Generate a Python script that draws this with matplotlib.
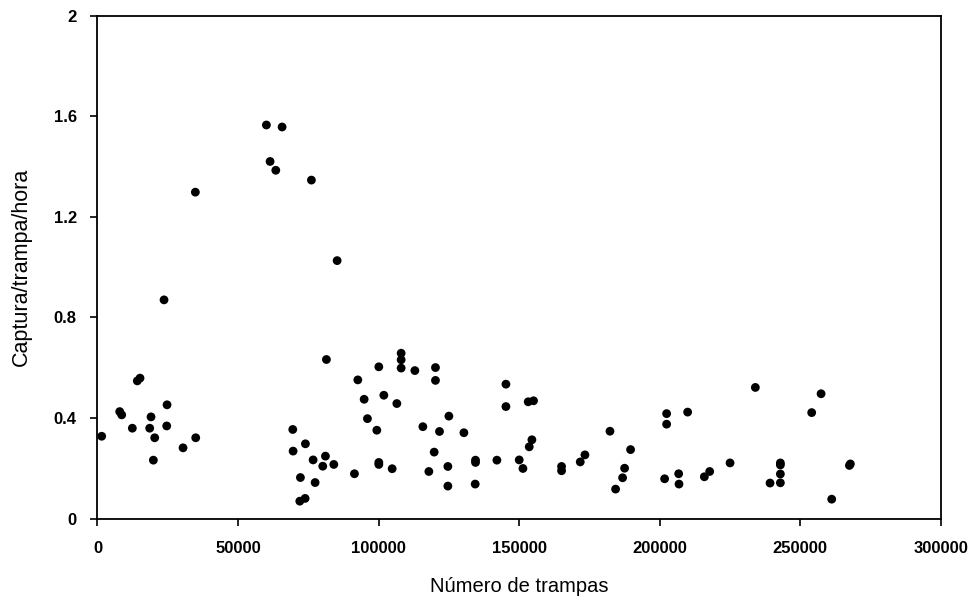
import matplotlib
matplotlib.use("Agg")
import matplotlib.pyplot as plt
from matplotlib.ticker import FuncFormatter

trampas = [
    60080, 65660, 61390, 63420, 76090, 34810, 85240, 23670,
    81430, 14160, 15130, 7900, 8610, 24740, 19040, 12390, 18570, 24620,
    1490, 20350, 34940, 30430, 19870,
    69460, 73960, 69580, 81080, 76700, 80130, 84060, 72180, 77410, 71960, 73850,
    91400, 92600, 94850, 101860, 96020, 99360, 100070, 100070, 100070, 104810,
    106480, 108010, 108010, 108010, 112890, 120220, 120220, 115740, 121650,
    124990, 119760, 117870, 124630, 124630, 130330, 134460, 134460, 134350,
    142070, 145280, 145280, 150010, 151330,
    153210, 155100, 154520, 153570, 165070, 165070, 171720, 173380, 182290,
    189620, 187490, 186780, 184290, 202440, 202440, 201730, 209920, 206720,
    206840, 215860, 217760, 225000, 234000,
    239230, 242900, 242900, 242900, 242900, 254040, 257380, 261160, 267460, 267800,
]
captura = [
    1.565, 1.557, 1.420, 1.385, 1.346, 1.298, 1.026, 0.870,
    0.633, 0.548, 0.559, 0.426, 0.413, 0.453, 0.405, 0.360, 0.360, 0.369,
    0.328, 0.322, 0.322, 0.282, 0.233,
    0.355, 0.298, 0.269, 0.249, 0.234, 0.209, 0.216, 0.164, 0.144, 0.070, 0.081,
    0.179, 0.552, 0.475, 0.491, 0.398, 0.352, 0.604, 0.224, 0.216, 0.199,
    0.458, 0.658, 0.632, 0.599, 0.589, 0.601, 0.550, 0.366, 0.347,
    0.408, 0.265, 0.188, 0.208, 0.130, 0.342, 0.233, 0.224, 0.138,
    0.233, 0.535, 0.446, 0.234, 0.200,
    0.465, 0.469, 0.314, 0.286, 0.208, 0.191, 0.226, 0.254, 0.348,
    0.275, 0.201, 0.163, 0.118, 0.418, 0.376, 0.159, 0.424, 0.179,
    0.138, 0.167, 0.188, 0.222, 0.522,
    0.142, 0.222, 0.214, 0.178, 0.143, 0.422, 0.497, 0.078, 0.212, 0.218,
]

x_ticks = [0, 50000, 100000, 150000, 200000, 250000, 300000]
y_ticks = [0, 0.4, 0.8, 1.2, 1.6, 2.0]

plt.rcParams['font.family'] = ['Liberation Sans', 'DejaVu Sans']

fig = plt.figure(figsize=(9.72, 5.97), dpi=100)
ax = fig.add_axes([0.1003, 0.131, 0.8677, 0.843])
ax.scatter(trampas, captura, s=40, color='black', edgecolors='none', zorder=3)

ax.set_xlim(0, 300000)
ax.set_ylim(0, 2)
ax.set_xticks(x_ticks)
ax.set_yticks(y_ticks)
ax.yaxis.set_major_formatter(FuncFormatter(lambda v, p: ('%g' % v)))
ax.tick_params(direction='out', length=5, width=1.2, labelsize=12)
ax.tick_params(axis='x', pad=11)
ax.tick_params(axis='y', pad=10)
for lab in ax.get_xticklabels() + ax.get_yticklabels():
    lab.set_fontweight('bold')
for s in ax.spines.values():
    s.set_linewidth(1.3)
ax.set_xlabel('Número de trampas', fontsize=14.5)
ax.set_ylabel('Captura/trampa/hora', fontsize=15.5)
ax.xaxis.set_label_coords(0.5, -0.115)
ax.yaxis.set_label_coords(-0.078, 0.5)

fig.savefig('out.png', dpi=100)
